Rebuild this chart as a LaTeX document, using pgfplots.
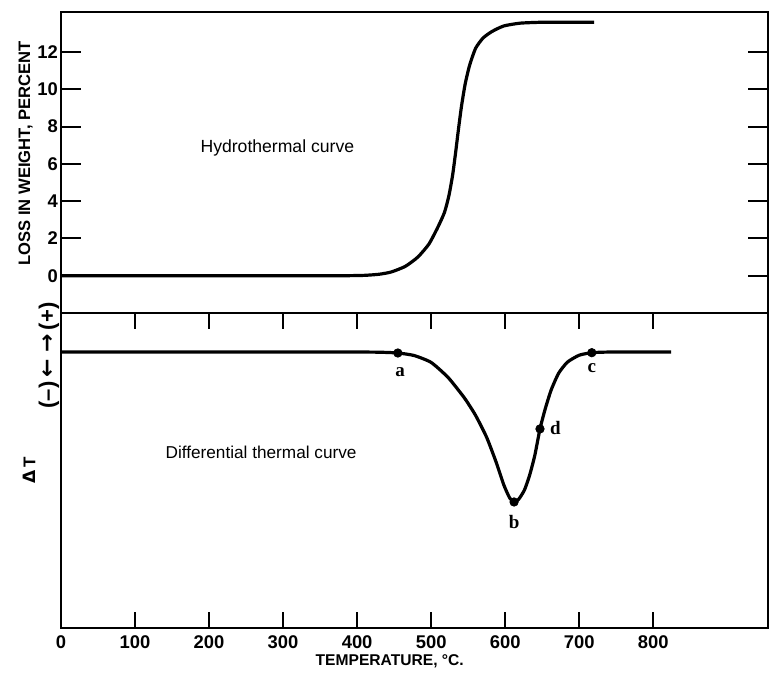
\documentclass[border=0pt]{standalone}
\usepackage{pgfplots}
\pgfplotsset{compat=1.18}
\usepackage{fontspec}
\setmainfont{Liberation Sans}
\newfontfamily\serifb{Liberation Serif}
\newfontfamily\dejavu{DejaVu Sans}
\begin{document}
\begin{tikzpicture}
\pgfplotsset{
  common/.style={
    scale only axis, width=353.5pt,
    xmin=0, xmax=955,
    axis line style={line width=1.4pt},
    tick style={line width=1pt, black},
    tick align=inside,
    ticklabel style={font=\fontsize{9.2}{10}\selectfont\bfseries},
    /pgf/number format/assume math mode=true,
    clip=false,
  }
}
\begin{axis}[common, name=top, height=150.5pt,
  ymin=-2, ymax=14.15,
  xtick=\empty,
  ytick={0,2,...,12},
  ytick pos=both,
  major tick length=10pt,
  yticklabel style={xshift=2pt},
  ylabel={LOSS IN WEIGHT, PERCENT},
  ylabel style={at={(axis description cs:-0.05,0.53)}, anchor=center,
    font=\fontsize{8.3}{10}\selectfont\bfseries},
]
\addplot[line width=1.6pt, smooth, tension=0.35] coordinates {
(0,0) (100,0) (200,0) (300,0) (380,0) (410,0.02) (430,0.08) (446,0.2)
(465,0.5) (482,1.0) (497,1.7) (509,2.6) (518,3.4) (524,4.3) (529,5.4)
(533,6.6) (537,7.9) (541,9.1) (546,10.3) (552,11.3) (560,12.2) (570,12.75)
(582,13.1) (598,13.4) (620,13.55) (650,13.6) (690,13.6) (720,13.6)};
\node[font=\fontsize{8.8}{11}\selectfont] at (axis description cs:0.306,0.548) {Hydrothermal curve};
\end{axis}
\begin{axis}[common, name=bot, height=157.5pt,
  at={(top.south west)}, anchor=north west,
  ymin=0, ymax=100,
  ytick=\empty,
  xtick={0,100,...,800},
  xtick pos=both,
  major tick length=8pt,
  xticklabel style={yshift=-0.5pt},
  xlabel={TEMPERATURE, °C.},
  xlabel style={at={(axis description cs:0.465,0)}, anchor=center, yshift=-16.5pt,
    font=\fontsize{7.8}{9}\selectfont\bfseries},
  ylabel={{\dejavu\bfseries Δ}\,T},
  ylabel style={at={(axis description cs:-0.045,0.5)}, anchor=center,
    font=\fontsize{8.5}{10}\selectfont\bfseries},
]
\addplot[line width=1.6pt, smooth, tension=0.35] coordinates {
(0,87.6) (100,87.6) (200,87.6) (300,87.6) (400,87.6) (430,87.55) (455,87.3)
(477,86.5) (500,84.3) (523,79.5) (545,73) (560,67.5) (575,60.5) (588,52.5)
(598,45.5) (606,41.3) (612,40) (618,40.8) (626,43.8) (633,48.5) (640,54.8)
(647,63.2) (654,69.5) (662,75.5) (672,80.8) (684,84.4) (700,86.6) (717,87.4)
(740,87.6) (780,87.6) (824,87.6)};
\addplot[only marks, mark=*, mark size=2.1pt, black] coordinates {
(455,87.3) (612,40) (717,87.4) (647,63.2)};
\node[font=\serifb\fontsize{9.5}{10}\selectfont\bfseries, anchor=north] at (axis cs:458,85) {a};
\node[font=\serifb\fontsize{9.5}{10}\selectfont\bfseries, anchor=north] at (axis cs:612,38) {b};
\node[font=\serifb\fontsize{9.5}{10}\selectfont\bfseries, anchor=north] at (axis cs:717,86.3) {c};
\node[font=\serifb\fontsize{9.5}{10}\selectfont\bfseries, anchor=west] at (axis cs:651,63.4) {d};
\node[font=\fontsize{8.6}{11}\selectfont] at (axis description cs:0.283,0.559) {Differential thermal curve};
\node[rotate=90, font=\fontsize{11}{11}\selectfont\bfseries, anchor=center]
  at (axis description cs:-0.017,0.865) {(--)\,{\dejavu\bfseries ←\,\,→}\,(+)};
\end{axis}
\pgfresetboundingbox
\path ([shift={(-30.5pt,6pt)}]top.north west) rectangle ([shift={(2.5pt,-23pt)}]bot.south east);
\end{tikzpicture}
\end{document}
